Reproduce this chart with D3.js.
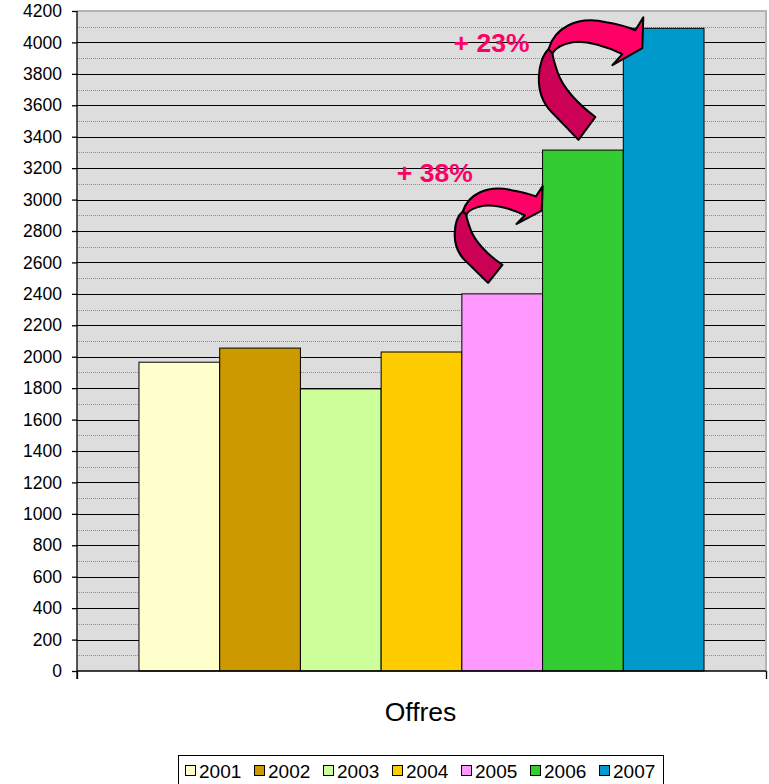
<!DOCTYPE html>
<html>
<head>
<meta charset="utf-8">
<script src="https://cdn.jsdelivr.net/npm/d3@7"></script>
<style>
  html, body { margin: 0; padding: 0; background: #fff; }
  svg { display: block; font-family: Arial, "Liberation Sans", sans-serif; }
</style>
</head>
<body>
<svg id="chart" width="769" height="784"></svg>
<script>
// ---- data ----
const categories = ["Offres"];
const years = ["2001", "2002", "2003", "2004", "2005", "2006", "2007"];
const values = [1965, 2055, 1795, 2030, 2400, 3315, 4090];
const yTickValues = d3.range(0, 4201, 200);
const yMinorValues = d3.range(100, 4200, 200);
const colors = ["#FFFFCC", "#CC9900", "#CCFF99", "#FFCC00", "#FF99FF", "#33CC33", "#0099CC"];

// ---- layout ----
const plot = { left: 77, right: 766, top: 11, bottom: 671 };
const svg = d3.select("#chart");

const y = d3.scaleLinear().domain([0, 4200]).range([plot.bottom, plot.top]);
const xCat = d3.scaleBand().domain(categories).range([plot.left, plot.right])
  .paddingInner(0).paddingOuter(0.1097);
const xYear = d3.scaleBand().domain(years).range([0, xCat.bandwidth()]).padding(0);
const barX = yr => xCat(categories[0]) + xYear(yr);

// plot background
svg.append("rect")
  .attr("x", plot.left).attr("y", plot.top)
  .attr("width", plot.right - plot.left).attr("height", plot.bottom - plot.top)
  .attr("fill", "#DDDDDD");

// minor gridlines (dotted)
svg.append("g").selectAll("line").data(yMinorValues).join("line")
  .attr("x1", plot.left).attr("x2", plot.right)
  .attr("y1", d => Math.round(y(d)) + 0.5).attr("y2", d => Math.round(y(d)) + 0.5)
  .attr("stroke", "#8a8a8a").attr("stroke-width", 1).attr("stroke-dasharray", "1,1");

// major gridlines
svg.append("g").selectAll("line").data(yTickValues.filter(d => d > 0 && d < 4200)).join("line")
  .attr("x1", plot.left).attr("x2", plot.right)
  .attr("y1", d => Math.round(y(d)) + 0.5).attr("y2", d => Math.round(y(d)) + 0.5)
  .attr("stroke", "#000").attr("stroke-width", 1);

// plot border top/right (gray)
svg.append("path")
  .attr("d", `M${plot.left},${plot.top} H${plot.right} V${plot.bottom}`)
  .attr("fill", "none").attr("stroke", "#b4b4b4").attr("stroke-width", 2);

// bars
svg.append("g").selectAll("rect").data(years).join("rect")
  .attr("x", d => barX(d))
  .attr("y", (d, i) => y(values[i]))
  .attr("width", xYear.bandwidth())
  .attr("height", (d, i) => y(0) - y(values[i]))
  .attr("fill", (d, i) => colors[i])
  .attr("stroke", "#000").attr("stroke-width", 1);

// y axis
const yAxis = d3.axisLeft(y).tickValues(yTickValues).tickSize(5).tickPadding(10).tickFormat(d3.format("d"));
const gy = svg.append("g").attr("transform", `translate(${plot.left},0)`).call(yAxis);
gy.select(".domain").attr("d", `M0,${plot.top}V${plot.bottom + 8}`).attr("stroke", "#000").attr("stroke-width", 1.3);
gy.selectAll(".tick line").attr("stroke", "#000").attr("stroke-width", 1.3);
gy.selectAll(".tick text").attr("font-size", 17.5).attr("fill", "#000")
  .attr("font-family", 'Arial, "Liberation Sans", sans-serif');

// x axis
const xAxis = d3.axisBottom(d3.scaleLinear().domain([0, 1]).range([plot.left, plot.right]))
  .tickValues([0, 1]).tickSize(8).tickFormat("");
const gx = svg.append("g").attr("transform", `translate(0,${plot.bottom})`).call(xAxis);
gx.select(".domain").attr("d", `M${plot.left},0H${plot.right}`).attr("stroke", "#000").attr("stroke-width", 1.3);
gx.selectAll(".tick line").attr("stroke", "#000").attr("stroke-width", 1.3);

// category label
svg.append("text")
  .attr("x", xCat(categories[0]) + xCat.bandwidth() / 2 - 1)
  .attr("y", 721)
  .attr("text-anchor", "middle")
  .attr("font-size", 26.5)
  .attr("fill", "#000")
  .text(categories[0]);

// ---- curved arrow annotations ----
// template shape in a 107 x 123 box
const TW = 107, TH = 123;
const darkPath = "M12,32 C1,42 -4,76 15,95 C24,104 33,114 42,123 L59,100 C41,87 26,70 21,55 C18,46 16,40 16,36 Z";
const lightPath = "M12,32 C18,11 40,-2 70,5 C82,7 92,10 99,13 L107,0 L106,31 L76,48 L86,37 C70,29 50,23 36,25 C26,27 19,30 16,36 Z";

function drawArrow(x0, x1, y0, y1) {
  const sx = (x1 - x0) / TW, sy = (y1 - y0) / TH;
  const sw = 2 / Math.min(sx, sy);
  const g = svg.append("g").attr("transform", `translate(${x0},${y0}) scale(${sx},${sy})`);
  g.append("path").attr("d", darkPath).attr("fill", "#CC0055")
    .attr("stroke", "#000").attr("stroke-width", sw).attr("stroke-linejoin", "round");
  g.append("path").attr("d", lightPath).attr("fill", "#FF0066")
    .attr("stroke", "#000").attr("stroke-width", sw).attr("stroke-linejoin", "round");
}

// growth labels computed from the data
const pct = (a, b) => "+ " + Math.round((values[b] / values[a] - 1) * 100) + "%";

drawArrow(barX("2005") - 9, barX("2006"), y(3085), y(2470));
drawArrow(barX("2006") - 6, barX("2007") + 20, y(4160), y(3380));

svg.append("text")
  .attr("x", barX("2005") - 65).attr("y", y(3112))
  .attr("font-size", 26.5).attr("font-weight", "bold").attr("fill", "#FF0066")
  .text(pct(4, 5));
svg.append("text")
  .attr("x", barX("2006") - 89).attr("y", y(3939))
  .attr("font-size", 26.5).attr("font-weight", "bold").attr("fill", "#FF0066")
  .text(pct(5, 6));

// ---- legend ----
const leg = { x: 178, y: 755, w: 485, h: 30, pitch: 69 };
svg.append("rect")
  .attr("x", leg.x + 0.5).attr("y", leg.y + 0.5)
  .attr("width", leg.w).attr("height", leg.h)
  .attr("fill", "#fff").attr("stroke", "#000").attr("stroke-width", 1);
const li = svg.append("g").selectAll("g").data(years).join("g")
  .attr("transform", (d, i) => `translate(${leg.x + 7 + i * leg.pitch},${leg.y + 10})`);
li.append("rect").attr("x", 0.5).attr("y", 0.5).attr("width", 10).attr("height", 10)
  .attr("fill", (d, i) => colors[i]).attr("stroke", "#000").attr("stroke-width", 1);
li.append("text").attr("x", 14).attr("y", 12.5)
  .attr("font-size", 19).attr("fill", "#000").text(d => d);
</script>
</body>
</html>
